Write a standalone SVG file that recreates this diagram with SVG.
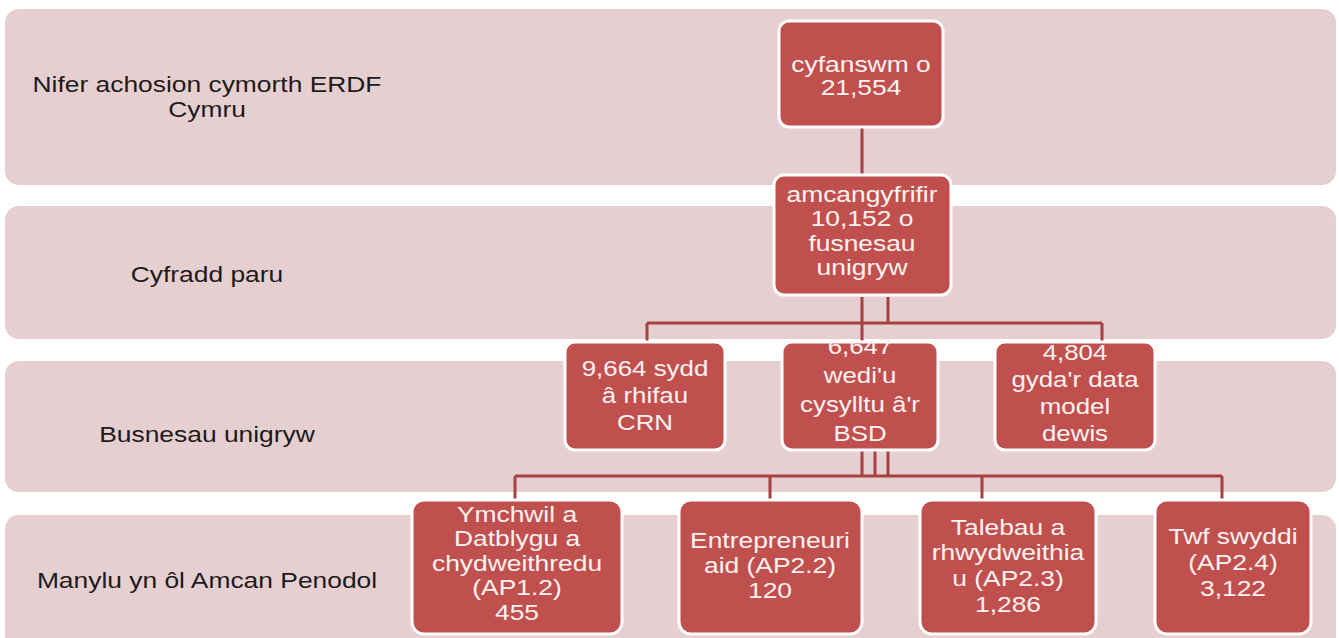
<svg xmlns="http://www.w3.org/2000/svg" width="1339" height="638" viewBox="0 0 1339 638">
<style>
.band{fill:#E6CFD0}
.lbl{font-family:"Liberation Sans",Arial,sans-serif;font-size:22px;fill:#1E1A1A;text-anchor:middle}
.box{fill:#C0504D;stroke:#FFFFFF;stroke-width:3}
.nt{font-family:"Liberation Sans",Arial,sans-serif;font-size:22px;fill:#FFF2F2;text-anchor:middle}
.nt3{font-family:"Liberation Sans",Arial,sans-serif;font-size:22.5px;fill:#FFF2F2;text-anchor:middle}
.con{fill:none;stroke:#A5413E;stroke-width:3}
</style>
<rect width="1339" height="638" fill="#FFFFFF"/>
<g id="band1">
<rect class="band" x="5" y="9" width="1331" height="176" rx="14"/>
<text class="lbl" transform="translate(207,0) scale(1.2,1)"><tspan x="0" y="92">Nifer achosion cymorth ERDF</tspan><tspan x="0" y="117">Cymru</tspan></text>
</g>
<g id="band2">
<rect class="band" x="5" y="206" width="1331" height="133" rx="14"/>
<text class="lbl" transform="translate(207,0) scale(1.2,1)" y="282">Cyfradd paru</text>
</g>
<g id="band3">
<rect class="band" x="5" y="361" width="1331" height="131" rx="14"/>
<text class="lbl" transform="translate(207,0) scale(1.2,1)" y="442">Busnesau unigryw</text>
</g>
<g id="band4">
<rect class="band" x="5" y="515" width="1331" height="140" rx="14"/>
<text class="lbl" transform="translate(207,0) scale(1.2,1)" y="588">Manylu yn ôl Amcan Penodol</text>
</g>
<g id="connectors">
<path class="con" d="M862 128V174"/>
<path class="con" d="M862 297V341M888 297V323M647 323H1102M647 323V341M1102 323V342"/>
<path class="con" d="M862 451V476M875 451V476M888 451V476M515 476H1222M515 476V500M770 476V500M982 476V500M1222 476V500"/>
</g>
<g id="n-total">
<rect class="box" x="779" y="21" width="164" height="106" rx="10"/>
<text class="nt" transform="translate(861,0) scale(1.2,1)"><tspan x="0" y="72">cyfanswm o</tspan><tspan x="0" y="95">21,554</tspan></text>
</g>
<g id="n-unique">
<rect class="box" x="774" y="175" width="177" height="120" rx="10"/>
<text class="nt" transform="translate(862,0) scale(1.2,1)"><tspan x="0" y="202">amcangyfrifir</tspan><tspan x="0" y="226.5">10,152 o</tspan><tspan x="0" y="251">fusnesau</tspan><tspan x="0" y="275.5">unigryw</tspan></text>
</g>
<g id="n-crn">
<rect class="box" x="565" y="342" width="160" height="108" rx="10"/>
<text class="nt3" transform="translate(645,0) scale(1.15,1)"><tspan x="0" y="376">9,664 sydd</tspan><tspan x="0" y="403">â rhifau</tspan><tspan x="0" y="430">CRN</tspan></text>
</g>
<g id="n-bsd">
<rect class="box" x="782" y="342" width="156" height="108" rx="10"/>
<text class="nt3" transform="translate(860,0) scale(1.15,1)"><tspan x="0" y="354">6,647</tspan><tspan x="0" y="383">wedi'u</tspan><tspan x="0" y="412">cysylltu â'r</tspan><tspan x="0" y="441">BSD</tspan></text>
</g>
<g id="n-model">
<rect class="box" x="995" y="342" width="160" height="108" rx="10"/>
<text class="nt3" transform="translate(1075,0) scale(1.15,1)"><tspan x="0" y="360">4,804</tspan><tspan x="0" y="387">gyda'r data</tspan><tspan x="0" y="414">model</tspan><tspan x="0" y="441">dewis</tspan></text>
</g>
<g id="n-ap12">
<rect class="box" x="412" y="500" width="210" height="134" rx="12"/>
<text class="nt" transform="translate(517,0) scale(1.2,1)"><tspan x="0" y="522">Ymchwil a</tspan><tspan x="0" y="546.5">Datblygu a</tspan><tspan x="0" y="571">chydweithredu</tspan><tspan x="0" y="595.5">(AP1.2)</tspan><tspan x="0" y="620">455</tspan></text>
</g>
<g id="n-ap22">
<rect class="box" x="679" y="500" width="183" height="134" rx="12"/>
<text class="nt" transform="translate(770,0) scale(1.2,1)"><tspan x="0" y="548">Entrepreneuri</tspan><tspan x="0" y="573">aid (AP2.2)</tspan><tspan x="0" y="598">120</tspan></text>
</g>
<g id="n-ap23">
<rect class="box" x="920" y="500" width="176" height="134" rx="12"/>
<text class="nt" transform="translate(1008,0) scale(1.2,1)"><tspan x="0" y="535">Talebau a</tspan><tspan x="0" y="560">rhwydweithia</tspan><tspan x="0" y="586">u (AP2.3)</tspan><tspan x="0" y="612">1,286</tspan></text>
</g>
<g id="n-ap24">
<rect class="box" x="1155" y="500" width="156" height="134" rx="12"/>
<text class="nt" transform="translate(1233,0) scale(1.2,1)"><tspan x="0" y="544">Twf swyddi</tspan><tspan x="0" y="570">(AP2.4)</tspan><tspan x="0" y="596">3,122</tspan></text>
</g>
</svg>
